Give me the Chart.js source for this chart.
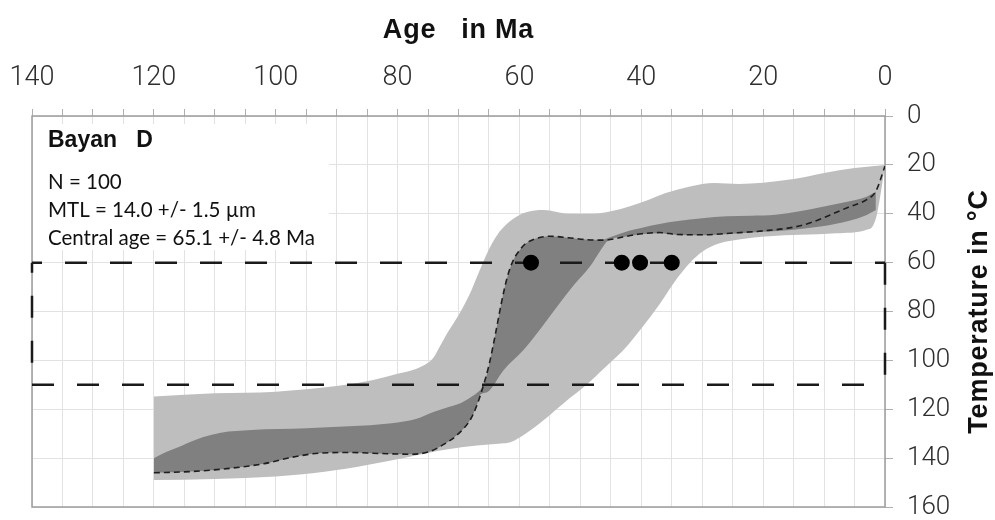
<!DOCTYPE html>
<html lang="en">
<head>
<meta charset="UTF-8">
<title>Bayan D - thermal history</title>
<script src="https://cdn.jsdelivr.net/npm/chart.js"></script>
<style>
  html, body { margin: 0; padding: 0; background: #fff; }
</style>
</head>
<body>
<canvas id="thermChart" width="995" height="520"></canvas>
<script>
// axis ticks
const ageTicks = [140, 120, 100, 80, 60, 40, 20, 0];
const tempTicks = [0, 20, 40, 60, 80, 100, 120, 140, 160];

// best-fit t-T path (dashed line)
const fitAge = [120, 114, 108, 102, 97, 93, 88, 83, 78, 75, 72.5, 70, 68, 67, 66, 65, 64, 63, 62, 61, 60, 59, 57.5, 55, 52, 49, 46, 43, 40, 37, 34, 30, 25, 20, 15, 12, 9, 6, 3, 1.5, 0];
const fitTemp = [146, 145.5, 144.3, 142.3, 139.5, 138, 137.7, 138.1, 138.4, 137.5, 134.5, 130, 124, 118.5, 111, 102, 90, 77, 66, 59, 55, 52.3, 50.3, 49.2, 49.8, 50.6, 50.8, 49.5, 48.2, 47.7, 48.5, 48.6, 47.9, 47, 45.5, 43.5, 40.5, 37.3, 34.2, 30.8, 20.5];

// light grey envelope (acceptable fits)
const lightTopAge = [120, 110, 100, 90, 84, 80, 77, 75, 74, 73, 72, 71, 70, 69, 68, 67, 66, 65, 64, 63, 61, 59, 56, 52, 48, 45, 42, 39, 36, 32, 28, 24, 20, 15, 10, 5, 0];
const lightTopTemp = [114.8, 113.5, 112.8, 110.5, 108, 105.5, 103.5, 101, 98.5, 94, 89.5, 85.5, 81.5, 77, 72, 66, 60, 54.5, 50, 46.5, 42, 39.5, 38.5, 40, 40, 39, 37, 34.5, 31.5, 28.8, 27.4, 27.8, 27.3, 25.8, 23.3, 21.3, 20];
const lightBotAge = [120, 110, 100, 92, 85, 78, 72, 67, 63, 61.5, 59, 56, 52.5, 49, 46, 43, 40, 37, 34, 32, 30, 27, 24, 19, 14, 8, 3, 2, 1.3, 0.6, 0];
const lightBotTemp = [149, 148.5, 147.5, 145.6, 142.8, 139.4, 136.5, 134.8, 134, 133.5, 130, 124.4, 117, 110, 103, 96, 87, 77, 66, 60, 55.5, 52, 50.5, 49.2, 48.6, 48, 46.5, 45, 40, 30, 20];

// dark grey envelope (good fits)
const darkTopAge = [120, 118, 115.5, 112, 109, 104, 95, 88, 81, 77, 74, 71.5, 69.5, 67.5, 66.4, 65.8, 65, 64, 63, 62, 61, 60, 59, 57.5, 55, 52, 49, 46.5, 45, 42, 40, 37, 34, 30, 26, 22, 18, 14, 10, 6, 3, 1.5];
const darkTopTemp = [140, 137.5, 135, 131.5, 129.6, 128.5, 127.8, 127, 125.7, 124, 121, 119, 117.3, 114.3, 112, 110, 102, 90, 77, 66, 59, 55, 52.3, 50.3, 49.2, 49.8, 50.5, 50.6, 49.5, 47, 45.8, 44.2, 43, 41.8, 41, 40.8, 40.4, 39, 37, 35, 33, 31];
const darkBotAge = [120, 114, 108, 102, 97, 93, 88, 83, 78, 75, 72.5, 70, 68, 67, 66.4, 65.3, 62.6, 59.3, 56.5, 53.8, 51, 48.4, 46.7, 45.5, 43, 40, 37, 34, 30, 25, 20, 15, 10, 6, 3, 1.5];
const darkBotTemp = [146, 145.5, 144.3, 142.3, 139.5, 138, 137.7, 138.1, 138.4, 137.5, 134.5, 130, 124, 118.5, 114, 113, 104, 95.7, 87, 78, 69, 61.5, 55, 51, 49.5, 48.4, 48, 48.7, 48.8, 48.2, 47.4, 46.5, 45, 43, 40.5, 38.5];

// constraint box (dashed rectangle)
const boxAge = [140, 0];
const boxTemp = [60, 110];

// single grain ages
const grainAge = [58.1, 43.2, 40.2, 35.0];
const grainTemp = [60, 60, 60, 60];

const sampleName = 'Bayan   D';
const statLines = ['N = 100', 'MTL = 14.0 +/- 1.5 µm', 'Central age = 65.1 +/- 4.8 Ma'];
const xTitle = 'Age   in Ma';
const yTitle = 'Temperature in °C';

const pts = (xs, ys) => xs.map((x, i) => ({ x: x, y: ys[i] }));

const band = (data, color, fill, order) => ({
    data: data, fill: fill, backgroundColor: color, borderColor: color,
    borderWidth: 0, pointRadius: 0, cubicInterpolationMode: 'monotone', order: order
});
const boxLine = (data, offset) => ({
    data: data, fill: false, borderColor: '#1a1a1a', borderWidth: 2.5,
    borderDash: [22, 23], borderDashOffset: offset, pointRadius: 0, tension: 0, clip: false, order: 3
});

// white label box, frame, texts and axis titles
const titleFont = 'bold 27px "Liberation Sans", Arial, sans-serif';
const decor = {
    id: 'decor',
    beforeDatasetsDraw(chart) {
        const { ctx, chartArea: a } = chart;
        ctx.save();
        ctx.fillStyle = '#fff';
        ctx.fillRect(a.left + 1, 124, 328 - a.left, 126);
        ctx.strokeStyle = '#9c9c9c';
        ctx.lineWidth = 1.5;
        ctx.strokeRect(a.left, a.top, a.right - a.left, a.bottom - a.top);
        ctx.restore();
    },
    afterDraw(chart) {
        const { ctx, chartArea: a } = chart;
        ctx.save();
        ctx.fillStyle = '#111';
        ctx.textBaseline = 'alphabetic';
        ctx.font = 'bold 23px "Liberation Sans", Arial, sans-serif';
        ctx.fillText(sampleName, 48, 147);
        ctx.font = '20.5px Lato, "Open Sans", sans-serif';
        statLines.forEach((t, i) => ctx.fillText(t, 48, 189 + i * 28));

        ctx.font = titleFont;
        ctx.letterSpacing = '0.8px';
        ctx.textAlign = 'center';
        ctx.textBaseline = 'middle';
        ctx.fillText(xTitle, (a.left + a.right) / 2, 31);
        ctx.translate(980, (a.top + a.bottom) / 2);
        ctx.rotate(-Math.PI / 2);
        ctx.fillText(yTitle, 0, 0);
        ctx.restore();
    }
};

new Chart(document.getElementById('thermChart'), {
    type: 'line',
    data: {
        datasets: [
            { data: pts(grainAge, grainTemp), showLine: false, pointRadius: 8, pointBackgroundColor: '#000', pointBorderWidth: 0, order: 0 },
            { data: pts(fitAge, fitTemp), fill: false, borderColor: '#1e1e1e', borderWidth: 1.6, borderDash: [6, 4], pointRadius: 0, cubicInterpolationMode: 'monotone', order: 1 },
            boxLine(pts(boxAge, [boxTemp[0], boxTemp[0]]), 12),
            boxLine(pts(boxAge, [boxTemp[1], boxTemp[1]]), 0),
            boxLine(pts([boxAge[0], boxAge[0]], boxTemp), 12),
            boxLine(pts([boxAge[1], boxAge[1]], boxTemp), 0),
            band(pts(darkTopAge, darkTopTemp), 'rgb(128,128,128)', '+1', 4),
            band(pts(darkBotAge, darkBotTemp), 'rgb(128,128,128)', false, 4),
            band(pts(lightTopAge, lightTopTemp), 'rgb(190,190,190)', '+1', 5),
            band(pts(lightBotAge, lightBotTemp), 'rgb(190,190,190)', false, 5)
        ]
    },
    options: {
        responsive: false,
        animation: false,
        events: [],
        layout: { padding: { left: 32, bottom: 13, top: 0, right: 0 } },
        plugins: { legend: { display: false }, tooltip: { enabled: false } },
        scales: {
            x: {
                type: 'linear', position: 'top', min: 0, max: 140, reverse: true,
                afterFit: (s) => { s.height = 116; s.paddingLeft = 0; s.paddingRight = 0; },
                ticks: {
                    stepSize: 5, autoSkip: false, maxRotation: 0, minRotation: 0, padding: 15,
                    color: '#2e2e2e', font: { family: 'Roboto', size: 27, weight: 300 },
                    callback: (v) => ageTicks.includes(v) ? String(v) : ''
                },
                grid: { color: '#e2e2e2', tickLength: 7, tickColor: '#b0b0b0' },
                border: { display: false }
            },
            y: {
                type: 'linear', position: 'right', min: 0, max: 160, reverse: true,
                afterFit: (s) => { s.width = 110; s.paddingTop = 0; s.paddingBottom = 0; },
                ticks: {
                    stepSize: 20, padding: 14, color: '#2e2e2e',
                    font: { family: 'Roboto', size: 26, weight: 300 },
                    callback: (v) => tempTicks.includes(v) ? String(v) : ''
                },
                grid: { color: '#e2e2e2', tickLength: 8, tickColor: '#b0b0b0' },
                border: { display: false }
            }
        }
    },
    plugins: [decor]
});
</script>
</body>
</html>
